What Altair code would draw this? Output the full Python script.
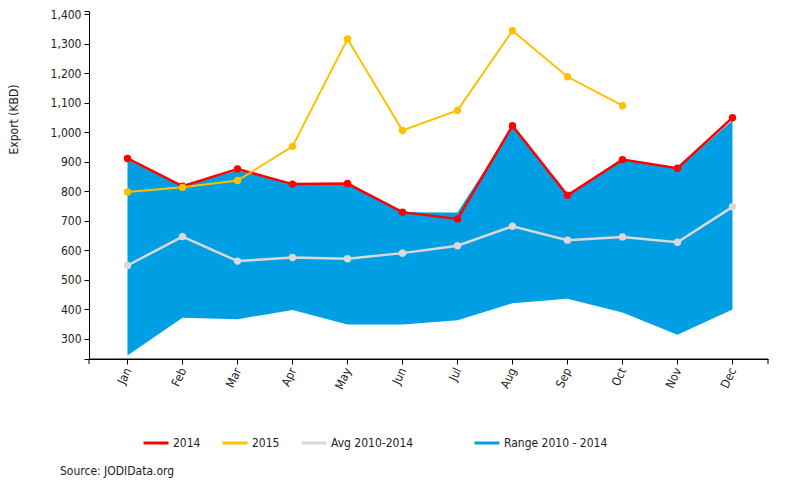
import altair as alt
import pandas as pd

months = ["Jan", "Feb", "Mar", "Apr", "May", "Jun", "Jul", "Aug", "Sep", "Oct", "Nov", "Dec"]
y2014 = [911, 817, 875, 824, 826, 729, 706, 1022, 786, 907, 878, 1049]
y2015 = [797, 813, 836, 952, 1316, 1006, 1074, 1344, 1188, 1090, None, None]
avg = [548, 646, 563, 575, 571, 590, 615, 681, 634, 645, 627, 747]
range_min = [243, 371, 366, 397, 348, 348, 362, 420, 435, 389, 313, 399]
range_max = [907, 817, 870, 822, 824, 729, 728, 1017, 786, 905, 876, 1040]

series_names = ["2014", "2015", "Avg 2010-2014", "Range 2010 - 2014"]
series_colors = ["#FF0000", "#FFC000", "#D9D9D9", "#009FE3"]
color_of = dict(zip(series_names, series_colors))
y_ticks = [231] + list(range(300, 1401, 100)) + [1411]

FONT = "DejaVu Sans Condensed"
H = 348

rows = []
for name, vals in [("2014", y2014), ("2015", y2015), ("Avg 2010-2014", avg)]:
    for m, v in zip(months, vals):
        if v is not None:
            rows.append({"month": m, "value": v, "series": name})
lines_df = pd.DataFrame(rows)
range_df = pd.DataFrame({"month": months, "lo": range_min, "hi": range_max})

x_enc = alt.X("month:N", sort=months,
              scale=alt.Scale(type="point", padding=0.673, align=0.52),
              axis=alt.Axis(title=None, labelAngle=-65, labelAlign="right", labelBaseline="middle",
                            labelFont=FONT, labelFontSize=12, labelColor="#222", labelPadding=4,
                            tickSize=5, tickColor="#000", domainColor="#000", grid=False))
y_scale = alt.Scale(domain=[231, 1411], nice=False, zero=False)
y_axis = alt.Axis(title="Export (KBD)", values=y_ticks,
                  labelExpr="datum.value % 100 == 0 ? format(datum.value, ',') : ''",
                  labelFont=FONT, labelFontSize=12, labelColor="#222", labelPadding=3,
                  tickSize=5, tickColor="#000", domainColor="#000", grid=False,
                  titleFont=FONT, titleFontSize=12, titleFontWeight="normal", titleColor="#222",
                  titleAngle=-90, titleBaseline="top", titleAlign="center", titleX=-81, titleY=108)
color_scale = alt.Scale(domain=series_names, range=series_colors)

blank = "\u2800" * 5
legend = alt.Legend(title=None, orient="none", legendX=53, legendY=418, direction="horizontal",
                    symbolType="stroke", symbolSize=625, symbolStrokeWidth=3,
                    labelFont=FONT, labelFontSize=12, labelColor="#222", labelOffset=3,
                    columnPadding=15, labelLimit=300,
                    labelExpr="datum.label == 'Avg 2010-2014' ? datum.label + '" + blank + "' : datum.label")

area = alt.Chart(range_df).mark_area(opacity=1, color=color_of["Range 2010 - 2014"]).encode(
    x=x_enc,
    y=alt.Y("lo:Q", scale=y_scale, axis=y_axis),
    y2="hi:Q",
)

def series_layers(name, width):
    base = alt.Chart(lines_df).transform_filter(alt.datum.series == name)
    ln = base.mark_line(strokeWidth=width).encode(
        x=x_enc, y=alt.Y("value:Q", scale=y_scale, axis=y_axis),
        color=alt.Color("series:N", scale=color_scale, legend=legend))
    pt = base.mark_circle(size=55, opacity=1, color=color_of[name]).encode(
        x=x_enc, y=alt.Y("value:Q", scale=y_scale, axis=y_axis))
    return [ln, pt]

one = pd.DataFrame({"a": [0]})
outer_ticks = [
    alt.Chart(one).mark_rule(color="#000", strokeWidth=1).encode(
        x=alt.value(0), y=alt.value(H), y2=alt.value(H + 5)),
    alt.Chart(one).mark_rule(color="#000", strokeWidth=1).encode(
        x=alt.value(679), y=alt.value(H), y2=alt.value(H + 5)),
    alt.Chart(one).mark_rule(color="#000", strokeWidth=1).encode(
        x=alt.value(0), x2=alt.value(679), y=alt.value(H)),
]
source = alt.Chart(pd.DataFrame({"t": ["Source: JODIData.org"]})).mark_text(
    align="left", baseline="middle", font=FONT, fontSize=12, color="#222").encode(
    text="t:N", x=alt.value(-29), y=alt.value(460))

layers = [area]
layers += series_layers("Avg 2010-2014", 2.5)
layers += series_layers("2014", 2.5)
layers += series_layers("2015", 2)
layers += outer_ticks + [source]

chart = alt.layer(*layers).properties(
    width=679, height=H,
    autosize=alt.AutoSizeParams(type="none"),
    padding={"left": 81, "top": 3, "right": 24, "bottom": 130},
    background="white",
).configure_view(strokeWidth=0)

chart.save("out.html", embed_options={"renderer": "svg", "actions": False})
